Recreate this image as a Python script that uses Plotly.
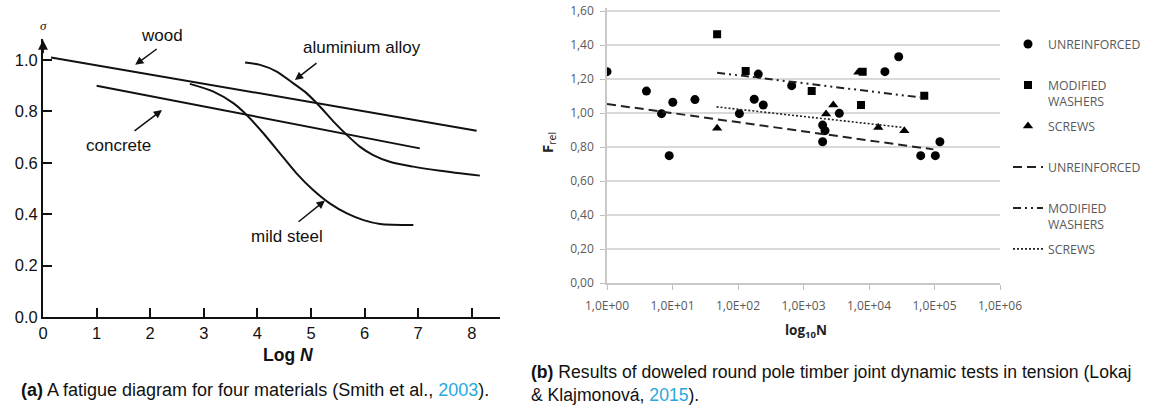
import plotly.graph_objects as go

W, H = 1150, 409
OFF = 0  # body margin removed by post_script below

# ---------------- Panel (a): fatigue diagram ----------------
a_xticks = [0, 1, 2, 3, 4, 5, 6, 7, 8]
a_yticks = [0.0, 0.2, 0.4, 0.6, 0.8, 1.0]
a_ytext = ["0.0", "0.2", "0.4", "0.6", "0.8", "1.0"]

wood_logN = [0.15, 8.09]
wood_sigma = [1.01, 0.725]
concrete_logN = [1.0, 7.03]
concrete_sigma = [0.90, 0.656]
alu_logN = [3.77, 4.05, 4.36, 4.67, 4.92, 5.17, 5.42, 5.67, 5.91, 6.16, 6.47, 6.91, 7.41, 8.15]
alu_sigma = [0.990, 0.981, 0.955, 0.909, 0.870, 0.818, 0.760, 0.708, 0.663, 0.630, 0.604, 0.585, 0.569, 0.550]
steel_logN = [2.74, 3.18, 3.55, 3.80, 4.11, 4.42, 4.73, 5.04, 5.35, 5.67, 5.98, 6.29, 6.91]
steel_sigma = [0.907, 0.877, 0.832, 0.786, 0.715, 0.637, 0.559, 0.494, 0.442, 0.403, 0.377, 0.362, 0.358]

# label text, arrow tail, arrow head (data units)
a_labels = ["wood", "aluminium alloy", "concrete", "mild steel"]
a_tail_x = [2.15, 5.13, 1.68, 4.74]
a_tail_y = [1.047, 0.992, 0.720, 0.366]
a_head_x = [1.72, 4.70, 2.22, 5.26]
a_head_y = [0.981, 0.922, 0.805, 0.453]

# ---------------- Panel (b): joint dynamic tests ----------------
b_xticks = [1, 10, 100, 1e3, 1e4, 1e5, 1e6]
b_xtext = ["1,0E+00", "1,0E+01", "1,0E+02", "1,0E+03", "1,0E+04", "1,0E+05", "1,0E+06"]
b_yticks = [0.0, 0.2, 0.4, 0.6, 0.8, 1.0, 1.2, 1.4, 1.6]
b_ytext = ["0,00", "0,20", "0,40", "0,60", "0,80", "1,00", "1,20", "1,40", "1,60"]

unr_N = [1.0, 4.0, 6.8, 10.1, 8.9, 22, 105, 177, 204, 243, 660, 1960, 2130, 1960, 3520,
         17500, 28400, 121000, 61600, 103000]
unr_F = [1.243, 1.129, 0.996, 1.063, 0.749, 1.079, 0.996, 1.081, 1.229, 1.047, 1.161, 0.929,
         0.896, 0.831, 0.998, 1.243, 1.331, 0.831, 0.749, 0.749]
wash_N = [48, 131, 1334, 7550, 8010, 69800]
wash_F = [1.463, 1.247, 1.129, 1.047, 1.243, 1.102]
scr_N = [48, 2210, 2850, 6870, 13870, 34600]
scr_F = [0.910, 0.994, 1.047, 1.239, 0.914, 0.896]

unr_trend_N = [1.0, 96000]
unr_trend_F = [1.053, 0.786]
wash_trend_N = [48, 60000]
wash_trend_F = [1.237, 1.092]
scr_trend_N = [47, 33000]
scr_trend_F = [1.036, 0.915]

fig = go.Figure()

AFONT = "Liberation Sans, Arial, sans-serif"
BFONT = "Open Sans, sans-serif"
GRAY = "#595959"

# panel (a) curves
for xs, ys in [(wood_logN, wood_sigma), (concrete_logN, concrete_sigma),
               (alu_logN, alu_sigma), (steel_logN, steel_sigma)]:
    fig.add_trace(go.Scatter(x=xs, y=ys, mode="lines", xaxis="x", yaxis="y",
                             line=dict(color="#111111", width=2, shape="spline", smoothing=0.8),
                             showlegend=False, hoverinfo="skip"))

# panel (b) markers
mk = dict(color="#000000", line=dict(width=0))
fig.add_trace(go.Scatter(x=unr_N, y=unr_F, mode="markers", xaxis="x2", yaxis="y2",
                         name="UNREINFORCED<br>\u00a0", legendgroup="g1",
                         marker=dict(symbol="circle", size=9, **mk)))
fig.add_trace(go.Scatter(x=wash_N, y=wash_F, mode="markers", xaxis="x2", yaxis="y2",
                         name="MODIFIED<br>WASHERS", legendgroup="g2",
                         marker=dict(symbol="square", size=8, **mk)))
fig.add_trace(go.Scatter(x=scr_N, y=scr_F, mode="markers", xaxis="x2", yaxis="y2",
                         name="SCREWS<br>\u00a0", legendgroup="g3",
                         marker=dict(symbol="triangle-up", size=9, **mk)))
fig.add_trace(go.Scatter(x=unr_trend_N, y=unr_trend_F, mode="lines", xaxis="x2", yaxis="y2",
                         name="UNREINFORCED<br>\u00a0", legendgroup="g4",
                         line=dict(color="#222222", width=2, dash="9px,5px")))
fig.add_trace(go.Scatter(x=wash_trend_N, y=wash_trend_F, mode="lines", xaxis="x2", yaxis="y2",
                         name="MODIFIED<br>WASHERS", legendgroup="g5",
                         line=dict(color="#222222", width=2, dash="8px,4px,2px,4px,2px,4px")))
fig.add_trace(go.Scatter(x=scr_trend_N, y=scr_trend_F, mode="lines", xaxis="x2", yaxis="y2",
                         name="SCREWS<br>\u00a0", legendgroup="g6",
                         line=dict(color="#222222", width=1.6, dash="2px,2px")))

def px_x(p):
    return (p - OFF) / W

def px_y(p):
    return 1 - (p - OFF) / H

def note(x, y, text, size, family=AFONT, color="#111111", **kw):
    d = dict(x=px_x(x), y=px_y(y), xref="paper", yref="paper", text=text, showarrow=False,
             xanchor="center", yanchor="middle",
             font=dict(family=family, size=size, color=color))
    d.update(kw)
    return d

# label positions in pixels
a_label_px = [(162, 35), (362, 48), (118, 145), (287, 237)]

annotations = []
for t, (lx, ly), tx, ty, hx, hy in zip(a_labels, a_label_px, a_tail_x, a_tail_y,
                                        a_head_x, a_head_y):
    annotations.append(note(lx, ly, t, 17))
    annotations.append(dict(x=hx, y=hy, xref="x", yref="y", ax=tx, ay=ty, axref="x", ayref="y",
                            text="", showarrow=True, arrowhead=2, arrowsize=1.1,
                            arrowwidth=1.5, arrowcolor="#111111", standoff=0))
# y-axis arrow
annotations.append(dict(x=0, y=1.078, xref="x", yref="y", ax=0, ay=1.02, axref="x", ayref="y",
                        text="", showarrow=True, arrowhead=2, arrowsize=1.1, arrowwidth=1.8,
                        arrowcolor="#111111", standoff=0))
annotations.append(note(43, 25, "<i>σ</i>", 13, family="Liberation Serif, serif"))
annotations.append(note(288, 355, "<b>Log <i>N</i></b>", 17.5))
annotations.append(note(255, 390,
                        "<b>(a)</b> A fatigue diagram for four materials (Smith et al., "
                        "<span style='color:#29a8e0'>2003</span>).", 18))
# panel (b) titles
annotations.append(note(548, 143, "<b>F</b><sub>rel</sub>", 15, family=BFONT, color="#222222",
                        textangle=-90))
annotations.append(note(806, 331, "<b>log<sub>10</sub>N</b>", 13.5, family=BFONT, color="#222222"))
annotations.append(note(529, 383,
                        "<b>(b)</b> Results of doweled round pole timber joint dynamic tests in tension (Lokaj"
                        "<br>& Klajmonová, <span style='color:#29a8e0'>2015</span>).", 17.6,
                        xanchor="left", align="left"))

B_YTOP = 1.615
fig.update_layout(
    template="none",
    width=W, height=H,
    margin=dict(l=0, r=0, t=0, b=0, pad=0, autoexpand=False),
    paper_bgcolor="white", plot_bgcolor="white",
    showlegend=True,
    legend=dict(x=px_x(1008), y=px_y(29.5), xanchor="left", yanchor="top",
                traceorder="grouped", tracegroupgap=6, valign="top",
                font=dict(family=BFONT, size=12.3, color=GRAY),
                bgcolor="rgba(0,0,0,0)", borderwidth=0),
    xaxis=dict(domain=[px_x(43), px_x(500)], range=[0, 8.526], tickvals=a_xticks,
               ticks="inside", ticklen=9, tickwidth=1.5, tickcolor="#111111",
               showline=True, linewidth=2, linecolor="#111111", showgrid=False, zeroline=False,
               automargin=False,
               tickfont=dict(family=AFONT, size=16.5, color="#111111"), anchor="y"),
    yaxis=dict(domain=[px_y(317), px_y(39.4)], range=[0, 1.08], tickvals=a_yticks,
               ticktext=a_ytext, ticks="inside", ticklen=9, tickwidth=1.5, tickcolor="#111111",
               showline=True, linewidth=2, linecolor="#111111", showgrid=False, zeroline=False,
               automargin=False,
               tickfont=dict(family=AFONT, size=16.5, color="#111111"), anchor="x"),
    xaxis2=dict(domain=[px_x(607), px_x(1000)], type="log", range=[0, 6],
                tickvals=b_xticks, ticktext=b_xtext, ticks="outside", ticklen=5,
                tickcolor="#bfbfbf", tickwidth=1.2, showline=True, linewidth=1.5,
                linecolor="#c8c8c8", showgrid=False, zeroline=False, ticklabelstandoff=6,
                automargin=False,
                tickfont=dict(family=BFONT, size=12, color=GRAY), anchor="y2"),
    yaxis2=dict(domain=[px_y(283), px_y(283 - B_YTOP * 170)], range=[0, B_YTOP],
                tickvals=b_yticks, ticklabeloverflow="allow",
                ticktext=b_ytext, ticks="outside", ticklen=5, tickcolor="#bfbfbf",
                tickwidth=1.2, showline=True, linewidth=1.5, linecolor="#c8c8c8",
                showgrid=True, gridcolor="#d9d9d9", gridwidth=1.5, zeroline=False,
                ticklabelstandoff=4, automargin=False,
                tickfont=dict(family=BFONT, size=12, color=GRAY), anchor="x2"),
    annotations=annotations,
)

fig.write_html("out.html", config={"displayModeBar": False},
               post_script="document.body.style.margin='0';")
